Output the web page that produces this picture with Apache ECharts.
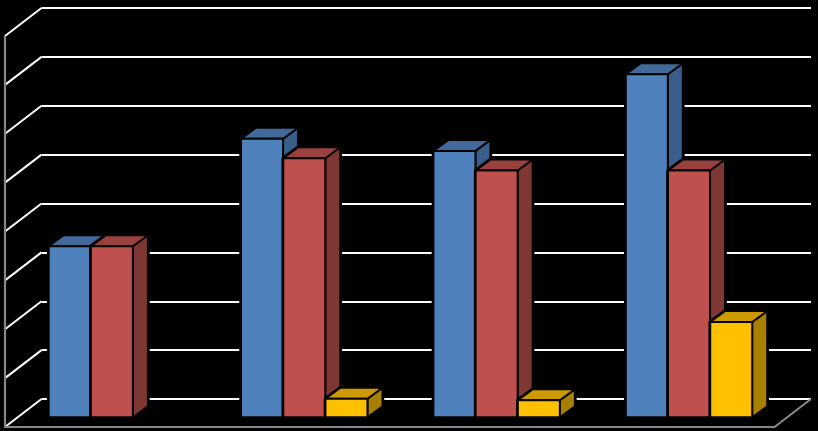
<!DOCTYPE html>
<html><head><meta charset="utf-8">
<style>html,body{margin:0;padding:0;background:#000}#c{width:818px;height:431px}</style>
<script src="https://cdn.jsdelivr.net/npm/echarts@6/dist/echarts.min.js"></script>
</head><body><div id="c"></div>
<script>
const categories = ['A', 'B', 'C', 'D'];
const seriesA = [35, 57, 54.5, 70.2];
const seriesB = [35, 53, 50.5, 50.5];
const seriesC = [null, 3.8, 3.5, 19.5];
const yTicks = [0, 10, 20, 30, 40, 50, 60, 70, 80];

const WALL_DX = 36.5, WALL_DY = 28;
const BAR_DX = 15, BAR_DY = 11;
const BAR_W = 42, BAR_STEP = 42.2, BAR_START = -89, BAR_SHIFT_Y = 18.3;

function bar3d(slot, front, top, side) {
  return function (params, api) {
    const v = api.value(1);
    if (v == null || isNaN(v)) return null;
    const p = api.coord([api.value(0), v]);
    const b = api.coord([api.value(0), 0]);
    const x0 = p[0] + BAR_START + slot * BAR_STEP, x1 = x0 + BAR_W;
    const yt = p[1] + BAR_SHIFT_Y, yb = b[1] + BAR_SHIFT_Y;
    const st = { stroke: '#060403', lineWidth: 2, lineJoin: 'round' };
    return { type: 'group', children: [
      { type: 'polygon', shape: { points: [[x0, yt], [x0 + BAR_DX, yt - BAR_DY], [x1 + BAR_DX, yt - BAR_DY], [x1 + BAR_DX, yb - BAR_DY], [x1, yb], [x0, yb]] },
        style: { fill: '#000', stroke: '#000', lineWidth: 3.6, lineJoin: 'round' } },
      { type: 'polygon', shape: { points: [[x1, yt], [x1 + BAR_DX, yt - BAR_DY], [x1 + BAR_DX, yb - BAR_DY], [x1, yb]] },
        style: Object.assign({ fill: side }, st) },
      { type: 'polygon', shape: { points: [[x0, yt], [x0 + BAR_DX, yt - BAR_DY], [x1 + BAR_DX, yt - BAR_DY], [x1, yt]] },
        style: Object.assign({ fill: top }, st) },
      { type: 'rect', shape: { x: x0, y: yt, width: BAR_W, height: yb - yt },
        style: Object.assign({ fill: front }, st) }
    ] };
  };
}

const chart = echarts.init(document.getElementById('c'));
const cell = (arr) => arr.map((v, i) => [i, v]);
chart.setOption({
  animation: false,
  backgroundColor: '#000',
  grid: { left: 41.5, right: 7, top: 8, bottom: 32 },
  xAxis: { type: 'category', data: categories, axisLine: { show: false }, axisTick: { show: false }, axisLabel: { show: false } },
  yAxis: { type: 'value', min: 0, max: 80, interval: 10, axisLine: { show: false }, axisTick: { show: false }, axisLabel: { show: false },
    splitLine: { show: true, lineStyle: { color: '#fff', width: 2 } } },
  series: [
    { type: 'custom', name: 'wall links', silent: true, z: 1, data: yTicks.map(v => [0, v]),
      renderItem(params, api) {
        const y = api.coord([0, api.value(1)])[1], x = params.coordSys.x;
        return { type: 'line', shape: { x1: x, y1: y, x2: x - WALL_DX, y2: y + WALL_DY },
          style: { stroke: '#fff', lineWidth: 2 } };
      } },
    { type: 'custom', name: 'frame', silent: true, z: 2, data: [[0, 0]],
      renderItem(params, api) {
        const c = params.coordSys, st = { stroke: '#868686', lineWidth: 2.2, fill: 'none' };
        const fx = c.x - WALL_DX, by = c.y + c.height + WALL_DY, ty = c.y + WALL_DY;
        return { type: 'polyline', shape: { points: [[fx, ty], [fx, by], [c.x + c.width - WALL_DX, by], [c.x + c.width, by - WALL_DY]] }, style: st };
      } },
    { type: 'custom', name: 'Series 1', z: 3, data: cell(seriesA), renderItem: bar3d(0, '#4F81BD', '#41699A', '#395E8C') },
    { type: 'custom', name: 'Series 2', z: 3, data: cell(seriesB), renderItem: bar3d(1, '#C0504D', '#9A403E', '#7F3734') },
    { type: 'custom', name: 'Series 3', z: 3, data: cell(seriesC), renderItem: bar3d(2, '#FFC000', '#CC9A00', '#A88000') }
  ]
});
</script></body></html>
